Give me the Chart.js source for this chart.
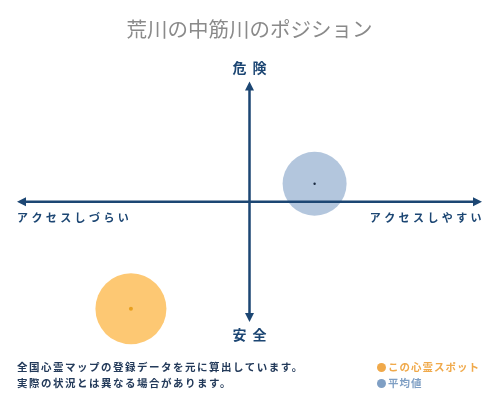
<!DOCTYPE html>
<html>
<head>
<meta charset="utf-8">
<script src="https://cdn.jsdelivr.net/npm/chart.js@4/dist/chart.umd.min.js"></script>
<style>
  body { margin: 0; background: #fff; }
  #wrap { position: relative; width: 500px; height: 400px; font-family: "Noto Sans CJK JP", sans-serif; }
  #note { position: absolute; left: 17px; top: 359px; font-size: 10.5px; font-weight: bold; color: #233a5a; letter-spacing: 1.5px; line-height: 16px; }
  #legend { position: absolute; left: 377px; top: 359px; font-size: 10.5px; font-weight: bold; letter-spacing: 1px; line-height: 16px; }
  #legend span.dot { display: inline-block; width: 9px; height: 9px; border-radius: 50%; margin-right: 2px; vertical-align: -1px; }
</style>
</head>
<body>
<div id="wrap">
  <canvas id="myChart" width="500" height="400"></canvas>
  <div id="note">全国心霊マップの登録データを元に算出しています。<br>実際の状況とは異なる場合があります。</div>
  <div id="legend"></div>
</div>
<script>
// series: [access, danger, bubble size]
var seriesNames = ['この心霊スポット', '平均値'];
var accessValues = [-51, 28];
var dangerValues = [-89, 15];
var sizeValues = [35.5, 32];
var axisLabels = { top: '危険', bottom: '安全', left: 'アクセスしづらい', right: 'アクセスしやすい' };

var fillColors = ['rgba(253, 190, 90, 0.85)', 'rgba(150, 176, 208, 0.72)'];
var dotColors = ['#e8a020', '#1a2a40'];
var legendColors = ['#f0a94a', '#7f9fc4'];
var navy = '#1c4673';

var datasets = seriesNames.map(function(name, i) {
  return {
    label: name,
    data: [{ x: accessValues[i], y: dangerValues[i], r: sizeValues[i] }],
    backgroundColor: fillColors[i],
    borderWidth: 0,
    clip: false
  };
});

var axisPlugin = {
  id: 'axisArrows',
  afterDatasetsDraw: function(chart) {
    var ctx = chart.ctx;
    var xs = chart.scales.x, ys = chart.scales.y;
    var cx = xs.getPixelForValue(0), cy = ys.getPixelForValue(0);
    var l = xs.getPixelForValue(-100), r = xs.getPixelForValue(100);
    var t = ys.getPixelForValue(100), b = ys.getPixelForValue(-100);
    ctx.save();
    ctx.strokeStyle = navy;
    ctx.fillStyle = navy;
    ctx.lineWidth = 2.5;
    ctx.beginPath();
    ctx.moveTo(l + 4, cy); ctx.lineTo(r - 4, cy);
    ctx.moveTo(cx, t + 4); ctx.lineTo(cx, b - 4);
    ctx.stroke();
    function head(x, y, dx, dy) {
      var px = -dy, py = dx;
      ctx.beginPath();
      ctx.moveTo(x, y);
      ctx.lineTo(x - dx * 9 + px * 4.5, y - dy * 9 + py * 4.5);
      ctx.lineTo(x - dx * 9 - px * 4.5, y - dy * 9 - py * 4.5);
      ctx.closePath();
      ctx.fill();
    }
    head(l, cy, -1, 0);
    head(r, cy, 1, 0);
    head(cx, t, 0, -1);
    head(cx, b, 0, 1);

    // bubble centre dots
    chart.data.datasets.forEach(function(ds, i) {
      var p = chart.getDatasetMeta(i).data[0];
      ctx.fillStyle = dotColors[i];
      ctx.beginPath();
      ctx.arc(p.x, p.y, i === 0 ? 2 : 1.2, 0, Math.PI * 2);
      ctx.fill();
    });

    ctx.fillStyle = navy;
    ctx.textBaseline = 'middle';
    ctx.font = 'bold 14px "Noto Sans CJK JP"';
    ctx.letterSpacing = '6px';
    ctx.textAlign = 'center';
    ctx.fillText(axisLabels.top, cx + 3, t - 14);
    ctx.fillText(axisLabels.bottom, cx + 3, b + 13);
    ctx.font = 'bold 11px "Noto Sans CJK JP"';
    ctx.letterSpacing = '3.4px';
    ctx.textAlign = 'left';
    ctx.fillText(axisLabels.left, l, cy + 16);
    ctx.textAlign = 'right';
    ctx.fillText(axisLabels.right, r + 3, cy + 16);
    ctx.restore();
  }
};

var ctx = document.getElementById('myChart').getContext('2d');
var myChart = new Chart(ctx, {
  type: 'bubble',
  data: { datasets: datasets },
  options: {
    responsive: false,
    animation: false,
    layout: { autoPadding: false, padding: { left: 17, right: 18, top: 0, bottom: 78 } },
    scales: {
      x: { display: false, min: -100, max: 100 },
      y: { display: false, min: -100, max: 100 }
    },
    plugins: {
      legend: { display: false },
      tooltip: { enabled: false },
      title: {
        display: true,
        text: '荒川の中筋川のポジション',
        color: '#8a8a8a',
        font: { family: '"Noto Sans CJK JP"', size: 20.5, weight: 'normal' },
        padding: { top: 17, bottom: 40 }
      }
    }
  },
  plugins: [axisPlugin]
});

var legendHtml = '';
seriesNames.forEach(function(name, i) {
  legendHtml += '<div style="color:' + legendColors[i] + '"><span class="dot" style="background:' + legendColors[i] + '"></span>' + name + '</div>';
});
document.getElementById('legend').innerHTML = legendHtml;
</script>
</body>
</html>
